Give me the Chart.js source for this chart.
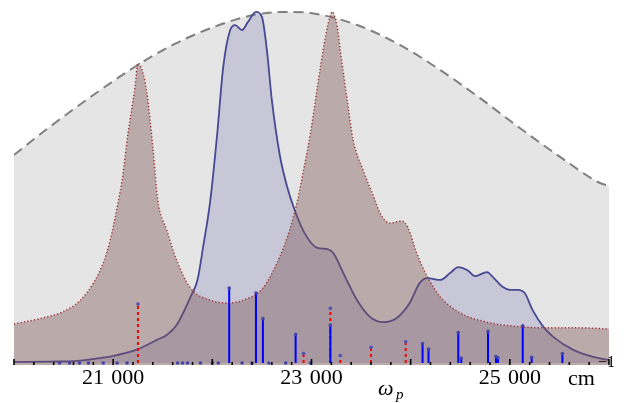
<!DOCTYPE html>
<html>
<head>
<meta charset="utf-8">
<script src="https://cdn.jsdelivr.net/npm/chart.js@4.4.1/dist/chart.umd.min.js"></script>
<style>
  html, body { margin: 0; padding: 0; background: #fff; }
  #wrap { width: 629px; height: 403px; }
</style>
</head>
<body>
<div id="wrap"><canvas id="spectrum"></canvas></div>
<script>
(function () {
  "use strict";

  // Broad envelope (dashed gray)
  const envelopeX = [20000, 20360, 20770, 21200, 21600, 22010, 22410, 22750, 22990, 23460, 23890, 24300, 24700, 25100, 25510, 25910, 26000];
  const envelopeY = [58.6, 66.5, 74.9, 83.1, 89.6, 94.6, 98.0, 98.9, 98.6, 95.2, 89.6, 82.5, 74.6, 66.2, 58.0, 50.7, 49.9];

  // Brown spectrum (dotted red outline)
  const brownX = [20000, 20290, 20490, 20670, 20800, 20900, 20970, 21040, 21090, 21150, 21220, 21250, 21300, 21340, 21400, 21450, 21540, 21640, 21780, 21980, 22150, 22310, 22510, 22680, 22780, 22860, 22900, 22990, 23090, 23160, 23210, 23260, 23290, 23360, 23420, 23520, 23640, 23690, 23790, 23910, 23970, 24060, 24170, 24300, 24500, 24770, 25030, 25380, 25710, 26000];
  const brownY = [11.0, 12.7, 14.4, 17.7, 22.5, 28.2, 34.6, 43.9, 51.5, 64.8, 77.7, 84.5, 81.7, 76.1, 60.8, 45.9, 37.5, 29.0, 21.1, 17.7, 16.9, 17.7, 21.1, 29.9, 37.5, 45.9, 51.5, 64.8, 83.4, 94.6, 98.9, 94.6, 88.2, 74.1, 62.8, 54.4, 45.9, 42.3, 39.4, 40.0, 38.3, 31.0, 24.2, 18.6, 14.1, 11.5, 10.4, 9.9, 9.9, 9.6];

  // Blue spectrum (solid outline)
  const blueX = [20000, 20360, 20640, 20870, 20970, 21250, 21440, 21540, 21640, 21780, 21850, 21910, 21980, 22050, 22110, 22180, 22230, 22300, 22360, 22440, 22500, 22550, 22600, 22680, 22750, 22830, 22930, 23060, 23160, 23220, 23320, 23460, 23590, 23720, 23860, 23990, 24090, 24170, 24300, 24400, 24480, 24570, 24650, 24770, 24830, 24930, 25000, 25080, 25150, 25230, 25340, 25440, 25640, 25840, 26000];
  const blueY = [0.3, 0.4, 0.6, 1.4, 1.8, 3.9, 6.5, 7.9, 10.7, 18.6, 23.4, 33.2, 45.9, 64.8, 83.4, 93.8, 95.2, 93.8, 96.1, 98.9, 97.5, 88.2, 74.1, 58.6, 50.1, 43.1, 36.6, 32.4, 32.1, 31.0, 25.4, 17.7, 13.0, 11.5, 12.7, 16.9, 22.5, 23.9, 23.4, 25.4, 27.0, 26.2, 24.5, 25.6, 24.2, 21.4, 20.6, 20.6, 19.7, 14.9, 10.1, 7.3, 3.7, 1.7, 0.8];

  // Blue transitions (sticks)
  const blueStickX = [20460, 20560, 20660, 20750, 20900, 21040, 21140, 21650, 21700, 21750, 21880, 22000, 22060, 22170, 22300, 22400, 22440, 22510, 22570, 22740, 22840, 22990, 23190, 24120, 24180, 24480, 24510, 24780, 24860, 24880, 25130, 25220, 25530];
  const blueStickY = [0, 0, 0, 0, 0, 0, 0, 0, 0, 0, 0, 0, 0, 21.1, 0, 0, 19.7, 12.5, 0, 0, 8.1, 0, 10.7, 5.5, 3.9, 8.6, 1.4, 8.9, 1.8, 1.5, 10.5, 1.6, 2.7];

  // Red transitions (dashed sticks)
  const redStickX = [21250, 22920, 23190, 23290, 23600, 23950];
  const redStickY = [16.6, 2.7, 15.4, 2.1, 4.4, 6.0];

  // Axis
  const xMin = 20000, xMax = 26000;
  const majorStep = 1000, minorStep = 200;
  const tickValues = [21000, 23000, 25000];
  const tickLabels = ['21\u2004000', '23\u2004000', '25\u2004000'];

  const serif = '"Liberation Serif", "DejaVu Serif", serif';

  function zipPoints(xs, ys) {
    return xs.map(function (x, i) { return { x: x, y: ys[i] }; });
  }

  // each stick: base, tip, gap
  function stickPoints(xs, ys) {
    const pts = [];
    xs.forEach(function (x, i) {
      pts.push({ x: x, y: 0 }, { x: x, y: ys[i] }, { x: x, y: null });
    });
    return pts;
  }

  function tipRadius(ctx) {
    return ctx.dataIndex % 3 === 1 ? 1.8 : 0;
  }

  const decorations = {
    id: 'decorations',
    afterDraw(chart) {
      const { ctx, chartArea } = chart;
      const x = chart.scales.x;
      ctx.save();
      // inward ticks along the bottom
      ctx.strokeStyle = '#000';
      ctx.lineWidth = 1.6;
      for (let v = xMin; v <= xMax; v += minorStep) {
        const px = x.getPixelForValue(v);
        const len = v % majorStep === 0 ? 6 : 3;
        ctx.beginPath();
        ctx.moveTo(px, chartArea.bottom);
        ctx.lineTo(px, chartArea.bottom - len);
        ctx.stroke();
      }
      // unit and axis name
      ctx.fillStyle = '#000';
      ctx.textBaseline = 'alphabetic';
      ctx.textAlign = 'left';
      ctx.font = '22px ' + serif;
      ctx.fillText('cm', chartArea.right - 41, 385);
      ctx.font = '16px ' + serif;
      ctx.fillText('\u2212' + '1', chartArea.right - 11, 367);
      ctx.font = 'italic 22px ' + serif;
      ctx.fillText('\u03c9', 378, 395);
      ctx.font = 'italic 15px ' + serif;
      ctx.fillText('p', 396, 399);
      ctx.restore();
    }
  };

  const canvas = document.getElementById('spectrum');
  new Chart(canvas.getContext('2d'), {
    type: 'line',
    data: {
      datasets: [
        {
          label: 'Blue sticks',
          data: stickPoints(blueStickX, blueStickY),
          borderColor: '#0000ff',
          borderWidth: 2,
          pointRadius: tipRadius,
          pointBackgroundColor: '#4444aa',
          pointBorderWidth: 0,
          fill: false,
          order: 0
        },
        {
          label: 'Red sticks',
          data: stickPoints(redStickX, redStickY),
          borderColor: '#ff0000',
          borderWidth: 2,
          borderDash: [3, 3],
          pointRadius: tipRadius,
          pointBackgroundColor: '#5050b0',
          pointBorderWidth: 0,
          fill: false,
          order: 1
        },
        {
          label: 'Brown',
          data: zipPoints(brownX, brownY),
          borderColor: '#a03030',
          borderWidth: 1.5,
          borderDash: [1.2, 2.2],
          backgroundColor: 'rgba(123, 84, 84, 0.41)',
          fill: 'start',
          pointRadius: 0,
          cubicInterpolationMode: 'monotone',
          order: 2
        },
        {
          label: 'Blue',
          data: zipPoints(blueX, blueY),
          borderColor: '#484894',
          borderWidth: 1.8,
          backgroundColor: 'rgba(113, 113, 177, 0.25)',
          fill: 'origin',
          pointRadius: 0,
          cubicInterpolationMode: 'monotone',
          order: 3
        },
        {
          label: 'Envelope',
          data: zipPoints(envelopeX, envelopeY),
          borderColor: '#7f7f7f',
          borderWidth: 2,
          borderDash: [10, 6],
          backgroundColor: '#e5e5e5',
          fill: 'start',
          pointRadius: 0,
          cubicInterpolationMode: 'monotone',
          order: 4
        }
      ]
    },
    options: {
      responsive: true,
      maintainAspectRatio: false,
      animation: false,
      layout: { padding: { left: 14, right: 20, top: 8, bottom: 8 } },
      plugins: {
        legend: { display: false },
        tooltip: { enabled: false }
      },
      scales: {
        x: {
          type: 'linear',
          min: xMin,
          max: xMax,
          grid: { display: false, drawTicks: false },
          border: { display: false },
          afterFit: function (scale) { scale.height = 30; },
          ticks: {
            stepSize: majorStep,
            autoSkip: false,
            maxRotation: 0,
            padding: 2.5,
            color: '#000',
            font: { family: serif, size: 22, lineHeight: 1 },
            callback: function (value) {
              const i = tickValues.indexOf(value);
              return i >= 0 ? tickLabels[i] : '';
            }
          }
        },
        y: {
          display: false,
          min: -0.56,
          max: 100
        }
      }
    },
    plugins: [decorations]
  });
})();
</script>
</body>
</html>
